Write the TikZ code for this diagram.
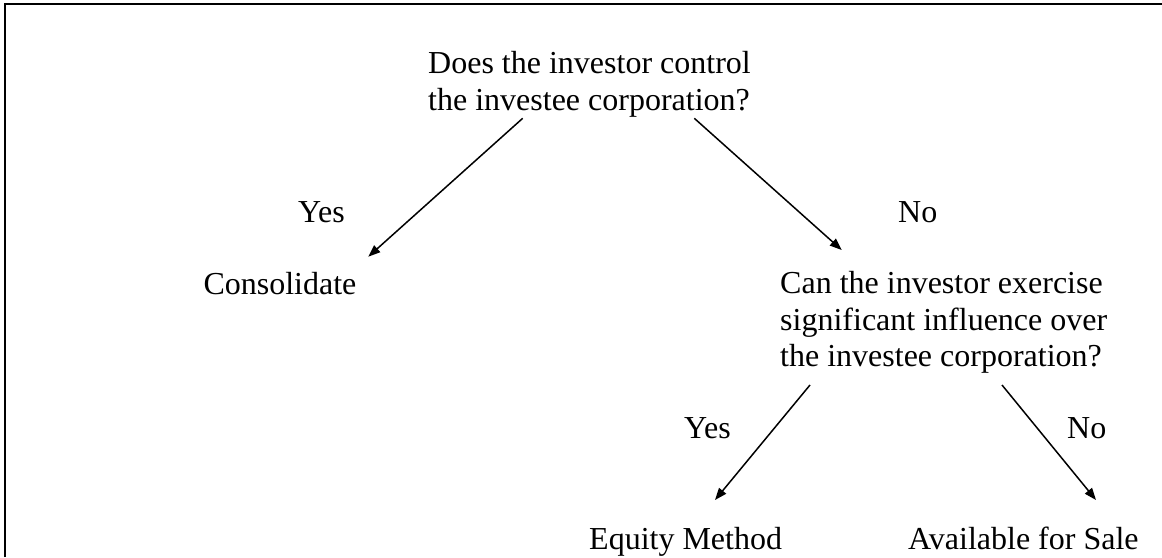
\documentclass[tikz,border=0pt]{standalone}
\usepackage{fontspec}
\setmainfont{Liberation Serif}
\usetikzlibrary{arrows.meta}
\begin{document}
\begin{tikzpicture}[x=1pt,y=-1pt,
  lbl/.style={anchor=base west,inner sep=0pt,font=\fontsize{32}{36.8}\selectfont},
  arr/.style={line width=1.5pt,-{Triangle[length=12pt,width=9pt]}},
  frameline/.style={line width=2.2pt}]
\useasboundingbox (0,0) rectangle (1162,557);
\draw[frameline] (5,557) -- (5,4) -- (1162,4);
% nodes
\node[lbl] (q1) at (428,73.3) {\parbox[t]{340pt}{\fontsize{32}{36.8}\selectfont Does the investor control\\the investee corporation?}};
\node[lbl] (yes1) at (298,222) {Yes};
\node[lbl] (no1) at (898,222) {No};
\node[lbl] (cons) at (203.3,294) {Consolidate};
\node[lbl] (q2) at (780,293.3) {\parbox[t]{380pt}{\fontsize{32}{36.8}\selectfont Can the investor exercise\\significant influence over\\the investee corporation?}};
\node[lbl] (yes2) at (684,438) {Yes};
\node[lbl] (no2) at (1067,438) {No};
\node[lbl] (eq) at (589,549) {Equity Method};
\node[lbl] (afs) at (908,549) {Available for Sale};
% connector ends
\coordinate (q1l) at (522.7,118.3);
\coordinate (q1r) at (694.3,118.3);
\coordinate (consT) at (368.3,256.7);
\coordinate (q2T) at (841.7,250);
\coordinate (q2l) at (810,385);
\coordinate (q2r) at (1002,385);
\coordinate (eqT) at (715,500);
\coordinate (afsT) at (1096,500);
\draw[arr] (q1l) -- (consT);
\draw[arr] (q1r) -- (q2T);
\draw[arr] (q2l) -- (eqT);
\draw[arr] (q2r) -- (afsT);
\end{tikzpicture}
\end{document}
